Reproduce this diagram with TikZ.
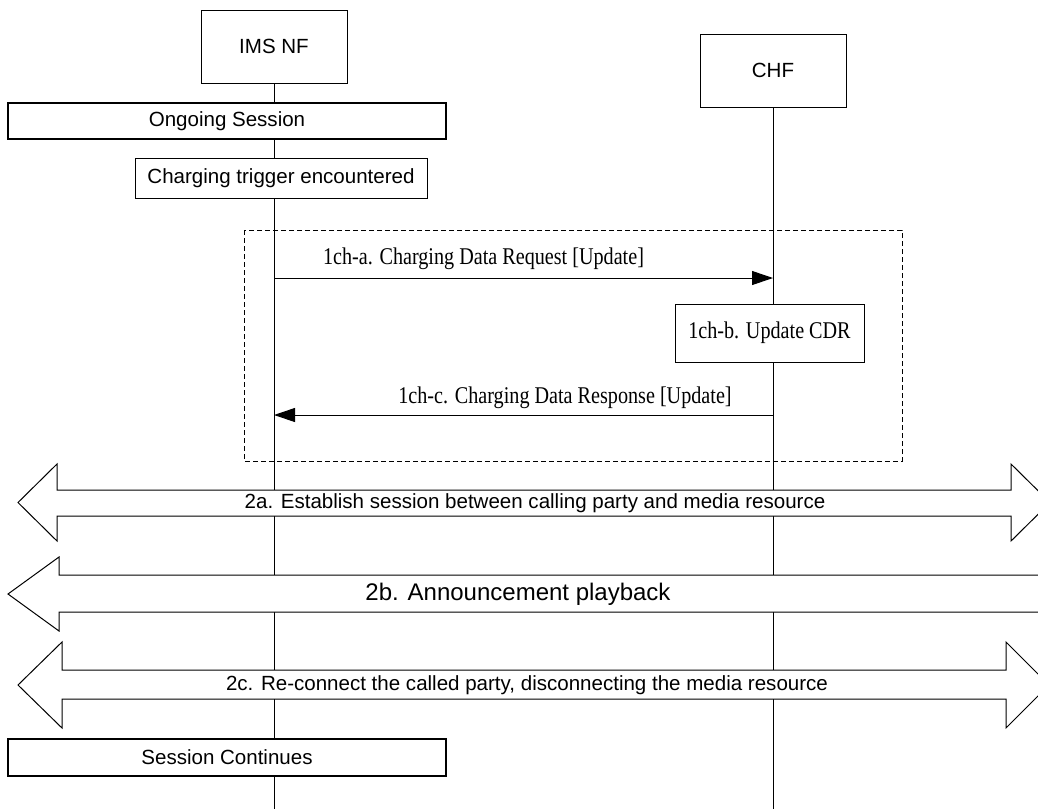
\documentclass[tikz,border=0pt]{standalone}
\usepackage{fontspec}
\setmainfont{Liberation Serif}
\setsansfont{Liberation Sans}
\usetikzlibrary{arrows.meta,backgrounds}

\newcommand{\narrowtext}[1]{\scalebox{0.84}[1]{\rmfamily\fontsize{18}{21}\selectfont #1}}

\tikzset{
	entity/.style={draw, fill=white, font=\sffamily\fontsize{15.4}{18}\selectfont, minimum width=109.5pt, minimum height=54.75pt, inner sep=0pt},
	statebox/.style={draw, fill=white, font=\sffamily\fontsize{15.4}{18}\selectfont, inner sep=0pt},
	msg/.style={-{Triangle[length=15.75pt,width=10.5pt]}},
	msglabel/.style={inner sep=0pt},
	bigarrow/.style={draw, fill=white},
	biglabel/.style={font=\sffamily\fontsize{15.4}{18}\selectfont, inner sep=0pt}}
\tikzset{every picture/.style={line width=0.75pt}}

\begin{document}
\begin{tikzpicture}[x=0.75pt,y=0.75pt,yscale=-1,xscale=1]
	\useasboundingbox (0,0) rectangle (1038,808);
	\clip (0,0) rectangle (1038,808);

	% Entities
	\node[entity] (ims) at (274,46.5) {IMS NF};
	\node[entity] (chf) at (773,70.5) {CHF};
	\coordinate (imsend) at (274,812);
	\coordinate (chfend) at (773,812);

	% Lifelines
	\begin{scope}[on background layer]
		\draw (ims.south) -- (imsend);
		\draw (chf.south) -- (chfend);
	\end{scope}

	% State boxes
	\node[statebox, line width=1.2pt, minimum width=328.5pt, minimum height=27pt] (ongoing) at (227,121) {Ongoing Session};
	\node[statebox, minimum width=219pt, minimum height=30pt] (trigger) at (281,178) {Charging trigger encountered};

	%Shape: Rectangle dashed
	\draw [dash pattern=on 3.75pt off 2.25pt] (244,230) rectangle (902,461);

	% Charging data request
	\coordinate (reqa) at (274,278);
	\coordinate (reqb) at (773,278);
	\draw[msg] (reqa) -- (reqb);
	% Text Node
	\node[msglabel] (reqlbl) at (483.5,259) {\narrowtext{1ch-a. Charging Data Request [Update]}};

	% Update CDR
	\node[statebox, minimum width=141.75pt, minimum height=43.5pt] (cdr) at (769.5,333) {\narrowtext{1ch-b. Update CDR}};

	% Charging data response
	\coordinate (resa) at (773,415);
	\coordinate (resb) at (274,415);
	\draw[msg] (resa) -- (resb);
	% Text Node
	\node[msglabel] (reslbl) at (565,398) {\narrowtext{1ch-c. Charging Data Response [Update]}};

	%Shape: Double arrow 2a
	\draw[bigarrow] (18,502.5) -- (57,464) -- (57,490) -- (1011,490) -- (1011,464) -- (1050,502.5) -- (1011,541) -- (1011,516) -- (57,516) -- (57,541) -- cycle;
	% Text Node
	\node[biglabel] (estlbl) at (535,503) {2a. Establish session between calling party and media resource};

	%Shape: Left arrow 2b
	\draw[bigarrow] (8,594) -- (59,557) -- (59,575) -- (1048,575) -- (1048,612) -- (59,612) -- (59,631) -- cycle;
	% Text Node
	\node[biglabel, font=\sffamily\fontsize{18}{21}\selectfont] (annlbl) at (518,594) {2b. Announcement playback};

	%Shape: Double arrow 2c
	\draw[bigarrow] (18,685) -- (62,642) -- (62,670) -- (1006,670) -- (1006,642) -- (1049,685) -- (1006,728) -- (1006,699) -- (62,699) -- (62,728) -- cycle;
	% Text Node
	\node[biglabel] (reclbl) at (527,685) {2c. Re-connect the called party, disconnecting the media resource};

	% Session continues
	\node[statebox, line width=1.2pt, minimum width=328.5pt, minimum height=27.75pt] (continues) at (227,757.5) {Session Continues};

\end{tikzpicture}
\end{document}
